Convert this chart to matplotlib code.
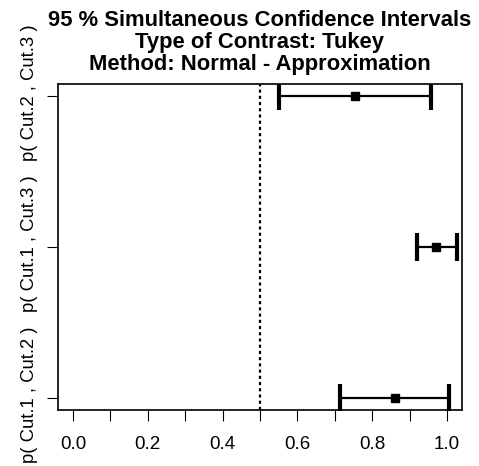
import numpy as np
import matplotlib.pyplot as plt
import matplotlib.transforms as mtransforms

plt.rcParams['font.family'] = ['Liberation Sans', 'DejaVu Sans']

# contrasts, bottom to top
contrasts = ['p( Cut.1 , Cut.2 )', 'p( Cut.1 , Cut.3 )', 'p( Cut.2 , Cut.3 )']
estimate = [0.862, 0.971, 0.755]
lower = [0.714, 0.919, 0.552]
upper = [1.006, 1.027, 0.957]
ref_value = 0.5

xticks = np.arange(0, 1.01, 0.1)
xticklabels = ['0.0', '', '0.2', '', '0.4', '', '0.6', '', '0.8', '', '1.0']

fig = plt.figure(figsize=(4.79, 4.66), dpi=100)
ax = fig.add_axes([58 / 479, 56 / 466, 404 / 479, 326 / 466])

pos = np.arange(1, len(contrasts) + 1)
est = np.array(estimate)
err = [est - np.array(lower), np.array(upper) - est]

ax.axvline(ref_value, color='black', lw=1.6, ls=(0, (1.4, 1.4)))
ax.errorbar(est, pos, xerr=err, fmt='s', color='black', ms=6.2,
            elinewidth=1.6, capsize=10, capthick=3)

ax.set_xlim(-0.04, 1.04)
ax.set_ylim(0.92, 3.08)
ax.set_xticks(xticks)
ax.set_xticklabels(xticklabels, fontsize=13.5)
ax.set_yticks(pos)
ax.set_yticklabels(contrasts, fontsize=13.3, rotation=90, va='center')
ax.tick_params(axis='both', length=8, width=0.8, direction='out')
ax.tick_params(axis='x', pad=11)
ax.tick_params(axis='y', pad=6.5)
# R puts these labels a touch above the tick
shift = mtransforms.ScaledTranslation(0, 3 / 100, fig.dpi_scale_trans)
for lab in ax.get_yticklabels():
    lab.set_transform(lab.get_transform() + shift)
for s in ax.spines.values():
    s.set_linewidth(1.2)

fig.text(0.5415, 1 - 10 / 466,
         '95 % Simultaneous Confidence Intervals\nType of Contrast: Tukey\nMethod: Normal - Approximation',
         ha='center', va='top', fontsize=15.8, fontweight='bold', linespacing=1.05)

plt.savefig('out.png', dpi=100)
